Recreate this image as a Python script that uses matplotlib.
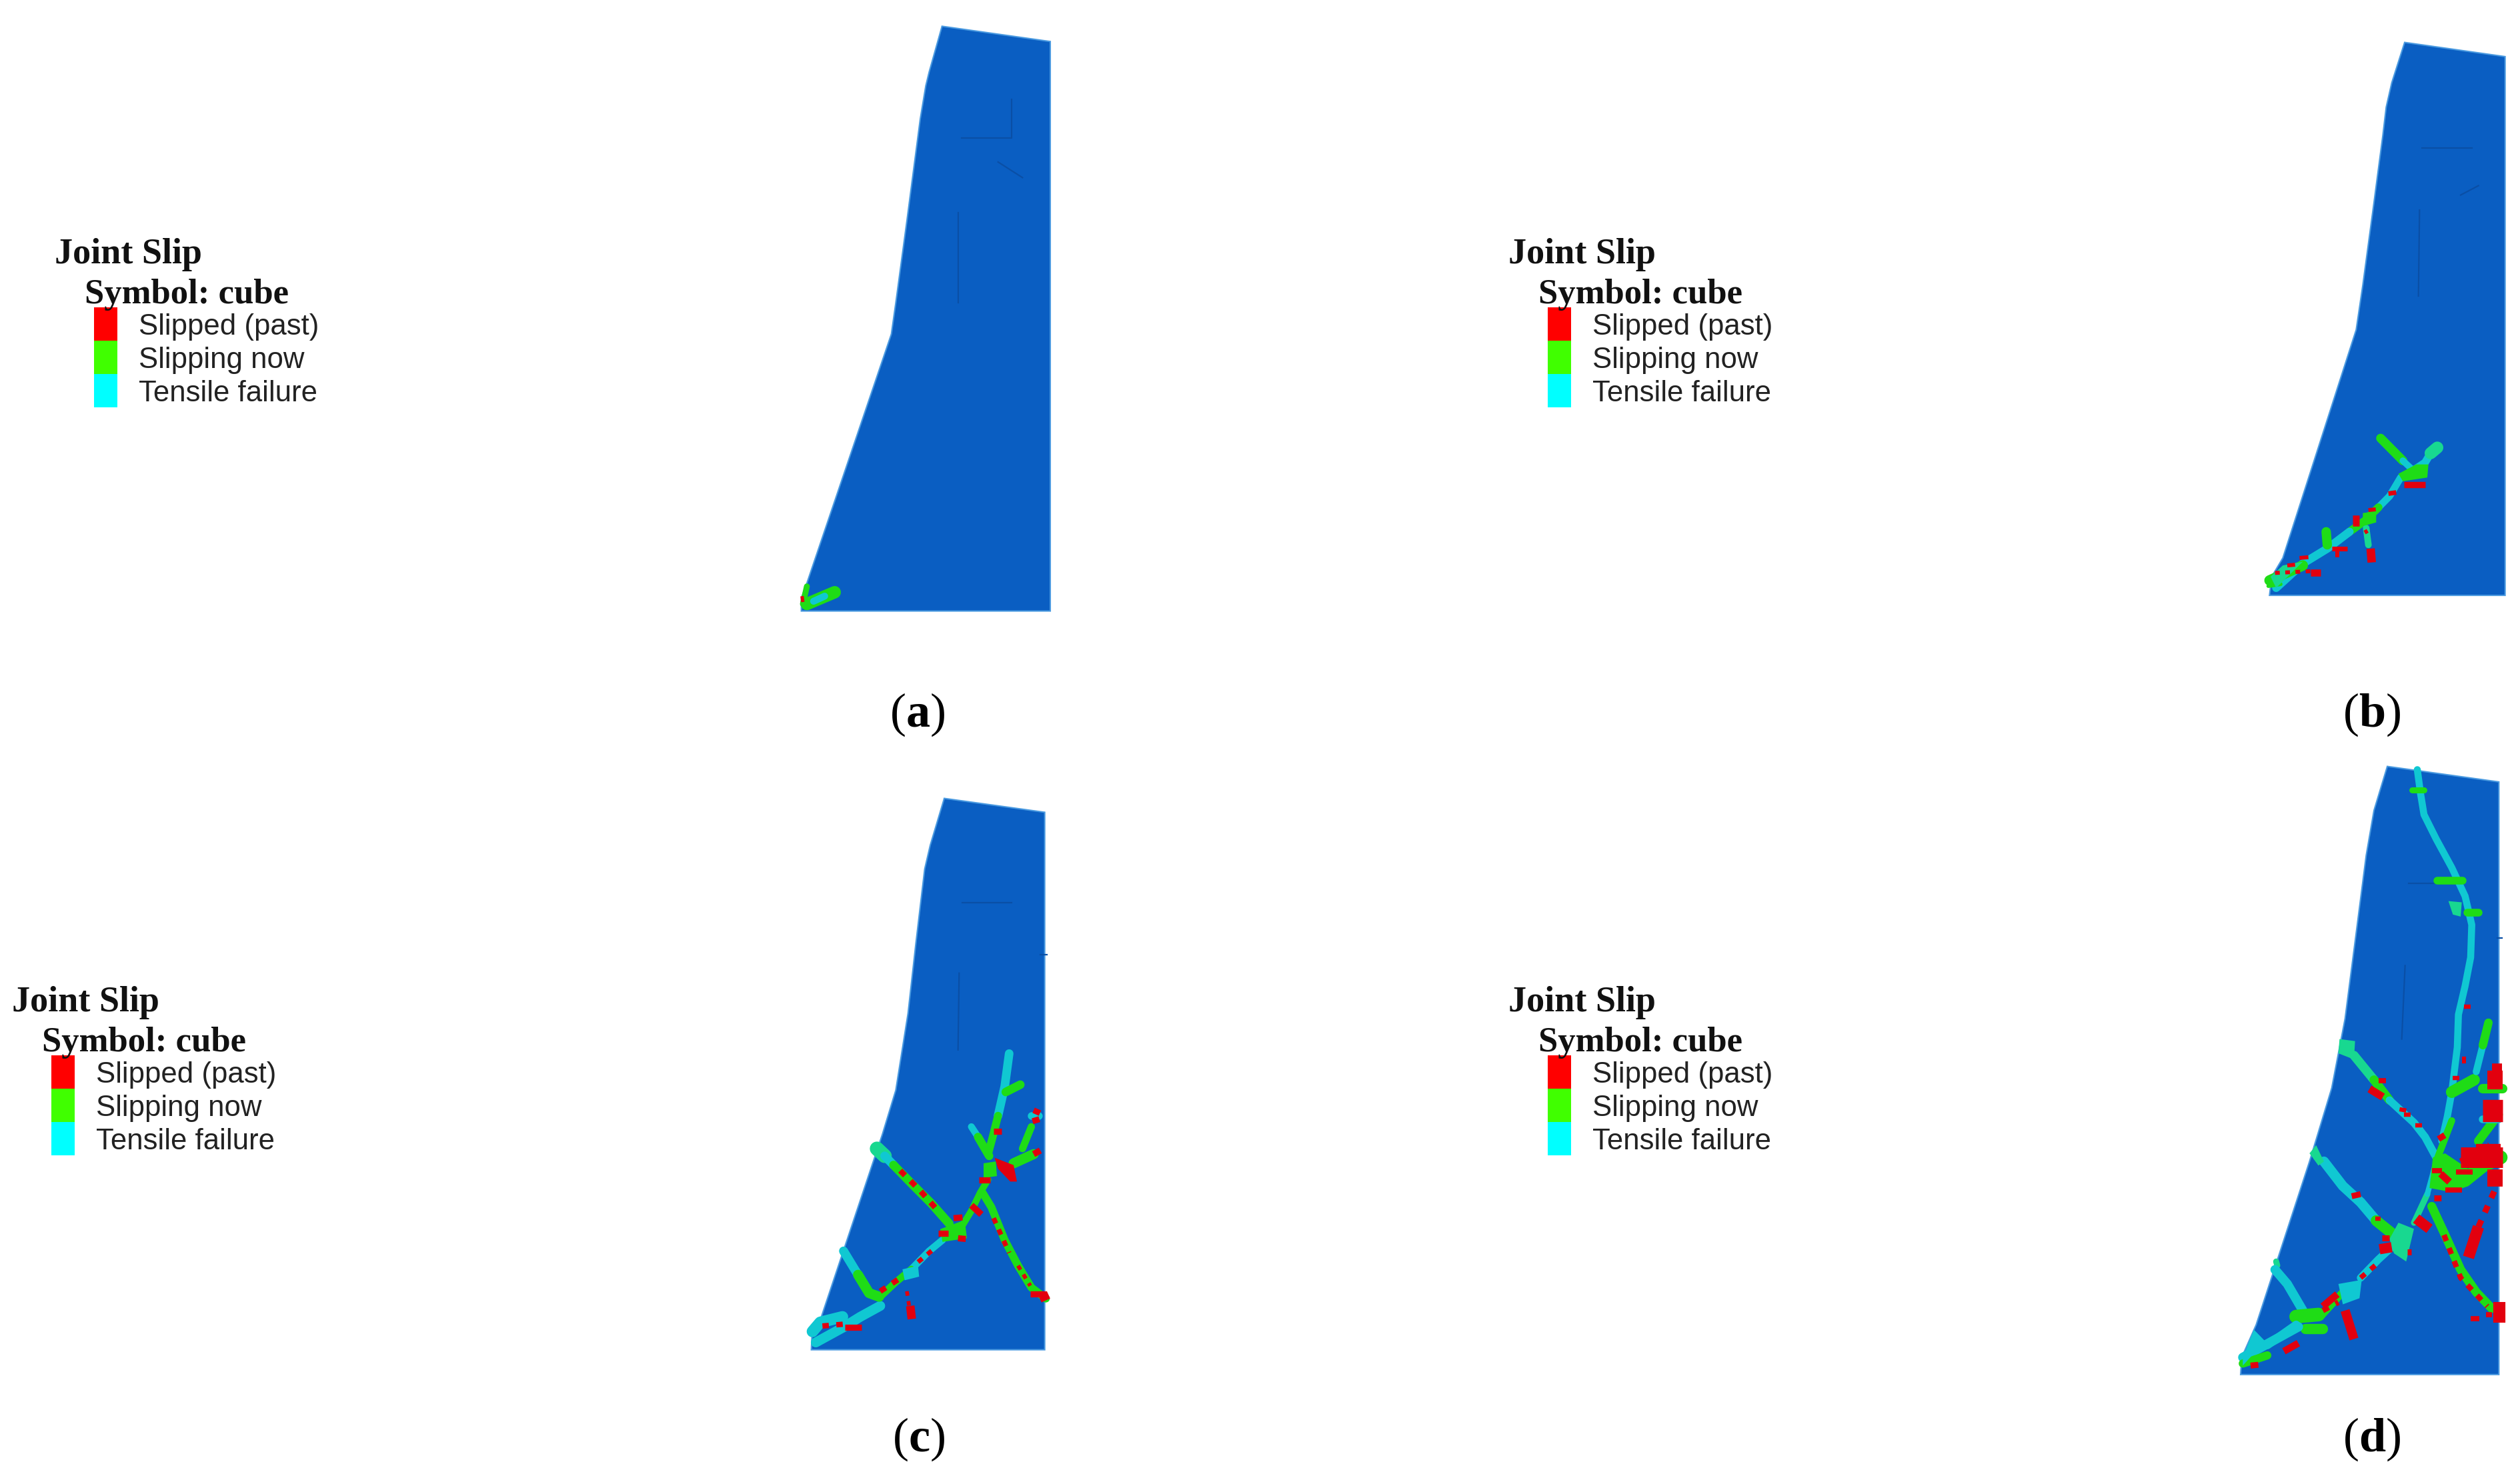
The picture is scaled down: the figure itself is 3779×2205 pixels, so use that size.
import math
import matplotlib
matplotlib.use("Agg")
import matplotlib.pyplot as plt
from matplotlib.patches import Rectangle

plt.rcParams['mathtext.fontset'] = 'custom'
plt.rcParams['mathtext.rm'] = 'Liberation Serif'
plt.rcParams['mathtext.bf'] = 'Liberation Serif:bold'

W, H = 3779, 2205
BLUE, DARK = '#0a5ec2', '#0a4fa6'
R, G, T, L = '#e2000e', '#1fdc16', '#10c8d2', '#18d890'

legend_title = 'Joint Slip'
legend_sub = 'Symbol: cube'
legend_names = ['Slipped (past)', 'Slipping now', 'Tensile failure']
legend_colors = ['#ff0000', '#40ff00', '#00ffff']
legend_offsets = [(0, 0), (2180, 0), (-64, 1122), (2180, 1122)]
panel_labels = ['a', 'b', 'c', 'd']
label_centers = [(1376, 1072), (3557, 1072), (1378, 2159), (3557, 2159)]

# crop window of each panel (x, y, w, h) in image pixels; data use crop units, 3 per px across and 1568 per window height
windows = [(1180, 20, 420, 920), (3370, 40, 409, 880), (1180, 1180, 420, 860), (3300, 1130, 479, 960)]
CROP_H = 1568

outline_a = [(698,33),(1185,72),(1185,1528),(65,1528),(65,1495),(85,1465),(470,820),(490,740),(540,530),(600,270),(625,185),(640,150)]
outline_b = [(708,42),(1160,80),(1160,1520),(100,1520),(110,1470),(160,1420),(490,810),(520,690),(570,470),(610,290),(625,215),(650,150)]
outline_c = [(708,32),(1160,70),(1160,1540),(110,1540),(115,1470),(155,1450),(430,950),(490,830),(545,620),(580,430),(620,225),(645,160)]
outline_d = [(840,32),(1342,70),(1342,1522),(180,1522),(185,1480),(250,1400),(490,1000),(590,820),(650,650),(700,440),(745,250),(780,140)]

faint_a = [[(785,318),(1010,318),(1010,220)], [(770,510),(770,740)], [(950,380),(1060,420)]]
faint_b = [[(785,325),(1010,325)], [(775,490),(770,720)], [(960,450),(1040,425)]]
faint_c = [[(790,318),(1010,318)], [(775,510),(770,720)], [(1140,460),(1170,460)]]
faint_d = [[(935,318),(1160,318)], [(920,520),(905,700)], [(1335,453),(1355,453)]]

blobs_a = []
strokes_a = [
    (G,16,[(90,1510),(215,1480)]), (T,9,[(120,1503),(170,1490)]),
    (G,12,[(90,1465),(72,1510)]), (R,7,[(68,1490),(72,1505)]),
]
dashes_a = []

blobs_b = [
    (G,[(680,1195),(760,1170),(815,1170),(810,1205),(700,1215)]),
    (G,[(520,1300),(580,1295),(580,1325),(520,1335)]),
    (L,[(105,1470),(160,1440),(250,1430),(130,1500)]),
]
strokes_b = [
    (G,14,[(600,1100),(650,1130),(700,1160)]), (T,10,[(700,1160),(745,1185)]),
    (T,12,[(750,1185),(800,1165),(825,1140)]), (L,18,[(825,1140),(855,1125)]),
    (T,12,[(690,1205),(640,1255),(590,1285)]), (G,12,[(590,1285),(530,1320),(460,1350)]),
    (T,12,[(460,1350),(360,1395),(250,1435),(130,1500)]),
    (G,20,[(355,1350),(360,1385)]), (L,14,[(535,1340),(545,1385)]),
    (R,18,[(555,1395),(560,1432)]), (R,14,[(475,1320),(505,1320)]),
    (R,10,[(395,1407),(415,1407)]), (R,6,[(380,1396),(450,1396)]),
    (R,9,[(285,1460),(330,1460)]), (R,8,[(705,1224),(800,1224)]),
    (R,5,[(235,1420),(275,1418)]), (R,5,[(180,1440),(215,1438)]),
    (R,6,[(635,1248),(670,1245)]), (R,5,[(545,1292),(578,1290)]),
    (G,14,[(100,1480),(250,1440)]), (G,5,[(95,1495),(150,1490)]),
]
dashes_b = [(R,5,[(125,1460),(300,1455)]), (R,6,[(530,1345),(550,1365)])]

blobs_c = [
    (R,[(935,1015),(1020,1035),(1035,1080),(1005,1080),(950,1045)]),
    (G,[(885,1030),(940,1025),(945,1065),(885,1070)]),
    (T,[(520,1320),(590,1310),(595,1340),(530,1350)]),
    (G,[(690,1210),(800,1185),(810,1235),(700,1245)]),
]
strokes_c = [
    (T,18,[(1000,730),(980,820),(950,900)]), (G,16,[(950,900),(925,960),(905,1005)]),
    (G,12,[(985,835),(1050,815)]), (R,8,[(930,942),(965,942)]),
    (T,12,[(830,930),(860,958)]), (G,15,[(860,958),(910,1010)]),
    (G,14,[(1020,1030),(1110,1005)]), (G,14,[(1060,990),(1100,930)]), (T,10,[(1100,900),(1135,900)]),
    (G,12,[(905,1075),(870,1110),(830,1160),(790,1200)]),
    (T,11,[(700,1240),(640,1270),(560,1320)]), (G,11,[(560,1320),(490,1355),(420,1395)]),
    (T,14,[(420,1420),(330,1450),(250,1480),(130,1520)]),
    (G,14,[(880,1110),(920,1150),(980,1240),(1040,1310),(1100,1370),(1165,1400)]),
    (L,22,[(405,990),(440,1010)]), (T,14,[(440,1010),(480,1035)]),
    (G,14,[(480,1035),(560,1085),(650,1140),(730,1195)]),
    (T,16,[(255,1270),(320,1335)]), (G,16,[(320,1335),(370,1385),(415,1395)]),
    (T,16,[(115,1490),(150,1465),(250,1450)]),
    (R,18,[(555,1420),(562,1456)]), (R,8,[(260,1478),(335,1478)]),
    (R,8,[(1095,1388),(1165,1388)]), (R,18,[(1150,1385),(1165,1405)]),
    (R,8,[(865,1076),(915,1076)]), (R,10,[(830,1145),(875,1170)]),
    (R,8,[(680,1222),(725,1222)]), (R,8,[(750,1180),(790,1178)]), (R,8,[(770,1235),(805,1237)]),
]
dashes_c = [
    (R,9,[(510,1050),(600,1105),(680,1160)]), (R,9,[(930,1180),(1000,1275)]),
    (R,9,[(1110,1005),(1170,985)]), (R,8,[(1110,885),(1165,900)]), (R,8,[(1105,915),(1160,905)]),
    (R,8,[(540,1380),(550,1420)]), (R,7,[(160,1475),(255,1470)]), (R,8,[(420,1380),(520,1340)]),
    (R,7,[(590,1300),(660,1265)]), (R,7,[(1040,1310),(1095,1365)]),
]

blobs_d = [
    (T,[(190,1480),(240,1412),(290,1440),(190,1500)]),
    (L,[(850,1190),(890,1150),(960,1165),(925,1245),(870,1225)]),
    (T,[(620,1300),(725,1290),(715,1335),(640,1350)]),
    (L,[(1115,362),(1175,365),(1170,400),(1135,395)]),
    (L,[(625,700),(695,705),(690,750),(620,735)]),
    (L,[(490,980),(520,960),(555,1000),(530,1010)]),
    (G,[(1045,990),(1100,980),(1210,1020),(1205,1060),(1130,1075),(1030,1065)]),
]
strokes_d = [
    (T,15,[(975,40),(990,100),(1005,150),(1060,210),(1130,280),(1190,350),(1220,420),(1215,500),(1190,570),(1160,640),(1155,720),(1130,830),(1110,890),(1085,950)]),
    (G,7,[(950,90),(1005,90)]), (G,9,[(1065,312),(1180,312)]), (G,9,[(1200,390),(1250,390)]),
    (R,5,[(1185,620),(1215,620)]), (R,8,[(1177,752),(1195,752)]), (R,5,[(1135,795),(1165,795)]),
    (L,14,[(690,740),(780,800)]), (G,14,[(780,800),(850,850)]), (T,12,[(850,850),(960,905),(1010,940),(1060,990)]),
    (T,15,[(555,1000),(640,1060),(720,1100),(790,1145)]), (G,15,[(790,1145),(870,1180)]),
    (L,12,[(340,1245),(345,1255)]), (T,15,[(335,1265),(390,1300),(460,1365)]),
    (G,16,[(430,1380),(530,1375)]), (T,11,[(430,1400),(300,1450)]), (G,12,[(470,1410),(550,1410)]),
    (T,12,[(190,1480),(440,1405)]), (G,10,[(190,1495),(300,1475)]),
    (G,11,[(540,1380),(640,1320)]), (T,11,[(720,1285),(800,1240),(880,1200)]),
    (L,11,[(960,1150),(1020,1080)]), (T,11,[(1020,1080),(1060,1000)]), (G,13,[(1060,1000),(1130,900)]),
    (G,15,[(1040,1110),(1100,1180),(1170,1265),(1240,1320),(1310,1360)]),
    (R,26,[(1343,1345),(1343,1395)]), (R,6,[(1215,1385),(1255,1385)]), (R,6,[(1285,1375),(1310,1375)]),
    (R,22,[(1205,1235),(1250,1160)]), (G,18,[(1190,1045),(1270,1010),(1350,990)]),
    (R,22,[(1290,800),(1360,800)]), (R,9,[(1310,770),(1355,770)]), (R,26,[(1270,875),(1360,875)]),
    (R,24,[(1170,990),(1360,990)]), (R,20,[(1290,1040),(1360,1040)]), (R,8,[(1240,965),(1350,965)]),
    (G,15,[(1130,830),(1230,800)]), (G,14,[(1250,950),(1340,885)]), (T,14,[(1240,780),(1270,715)]), (G,17,[(1270,715),(1295,660)]),
    (G,11,[(1270,822),(1360,822)]), (T,9,[(1270,897),(1340,897)]),
    (R,18,[(650,1365),(690,1435)]), (R,10,[(550,1355),(615,1325)]), (R,9,[(375,1465),(440,1445)]),
    (R,14,[(970,1140),(1030,1165)]), (R,12,[(805,1215),(860,1210)]), (R,10,[(760,822),(820,842)]),
    (R,6,[(800,802),(835,802)]), (R,5,[(895,872),(925,875)]), (R,5,[(915,885),(945,885)]), (R,5,[(965,912),(995,912)]),
    (R,10,[(1080,1030),(1120,1050)]), (R,7,[(680,1085),(720,1080)]), (R,5,[(785,1140),(810,1140)]),
    (R,7,[(225,1500),(260,1498)]), (R,7,[(815,1188),(850,1188)]), (R,7,[(930,1222),(948,1222)]),
    (R,6,[(1040,1022),(1085,1022)]), (R,6,[(1150,1025),(1225,1025)]), (R,6,[(1100,1070),(1175,1070)]),
]
dashes_d = [
    (R,9,[(1095,1180),(1170,1285),(1290,1355)]), (R,11,[(1250,1160),(1340,1050)]),
    (R,8,[(1070,945),(1130,925)]), (R,8,[(1170,1000),(1300,960)]), (R,7,[(720,1285),(800,1248)]),
    (R,7,[(1050,1090),(1100,1090)]), (R,7,[(550,1365),(620,1345)]),
]

outlines = [outline_a, outline_b, outline_c, outline_d]
faints = [faint_a, faint_b, faint_c, faint_d]
blobs = [blobs_a, blobs_b, blobs_c, blobs_d]
strokes = [strokes_a, strokes_b, strokes_c, strokes_d]
dashes = [dashes_a, dashes_b, dashes_c, dashes_d]

fig = plt.figure(figsize=(W / 100, H / 100), dpi=100, facecolor='white')

def xs(p): return [q[0] for q in p]
def ys(p): return [q[1] for q in p]

def width_pt(w, p, sy):
    """Stroke thickness read in crop units -> points, allowing for the crop's two scales."""
    dx, dy = (p[-1][0] - p[0][0]) / 3, (p[-1][1] - p[0][1]) * sy
    n = math.hypot(dx, dy) or 1
    nx, ny = -dy / n, dx / n
    return w * math.hypot(nx / 3, ny * sy) * 0.72 * 2.1

for i, (x0, y0, w, h) in enumerate(windows):
    sy = h / CROP_H
    ax = fig.add_axes([x0 / W, 1 - (y0 + h) / H, w / W, h / H])
    ax.set_xlim(0, w * 3)
    ax.set_ylim(CROP_H, 0)
    ax.axis('off')
    ax.fill(xs(outlines[i]), ys(outlines[i]), color=BLUE, lw=1.5, ec='#4a9ae0', zorder=1)
    for p in faints[i]:
        ax.plot(xs(p), ys(p), color=DARK, lw=1.6, zorder=2)
    for c, w_, p in strokes[i]:
        if c != R:
            ax.plot(xs(p), ys(p), color=c, lw=width_pt(w_, p, sy), solid_capstyle='round', solid_joinstyle='round', zorder=3)
    for c, p in blobs[i]:
        ax.fill(xs(p), ys(p), color=c, lw=0, zorder=4)
    for c, w_, p in strokes[i]:
        if c == R:
            ax.plot(xs(p), ys(p), color=c, lw=width_pt(w_, p, sy), solid_capstyle='butt', zorder=5)
    for c, w_, p in dashes[i]:
        ax.plot(xs(p), ys(p), color=c, lw=width_pt(w_, p, sy), linestyle=(0, (1.2, 1.4)), zorder=5)

bg = fig.add_axes([0, 0, 1, 1], zorder=10)
bg.set_xlim(0, W)
bg.set_ylim(H, 0)
bg.axis('off')

for dx, dy in legend_offsets:
    bg.text(82 + dx, 395 + dy, legend_title, family='Liberation Serif', weight='bold', fontsize=39, va='baseline', color='#111111')
    bg.text(127 + dx, 455 + dy, legend_sub, family='Liberation Serif', weight='bold', fontsize=38, va='baseline', color='#111111')
    for j, (name, col) in enumerate(zip(legend_names, legend_colors)):
        top = 461 + 50 * j
        bg.add_patch(Rectangle((141 + dx, top + dy), 35, 50, color=col, lw=0))
        bg.text(208 + dx, 502 + 50 * j + dy, name, family='Liberation Sans', fontsize=31.5, va='baseline', color='#222222')

for lab, (cx, cy) in zip(panel_labels, label_centers):
    bg.text(cx, cy, '($\\mathbf{%s}$)' % lab, fontsize=52, ha='center', va='center', family='Liberation Serif', color='black')

fig.savefig('out.png', dpi=100, facecolor='white')
